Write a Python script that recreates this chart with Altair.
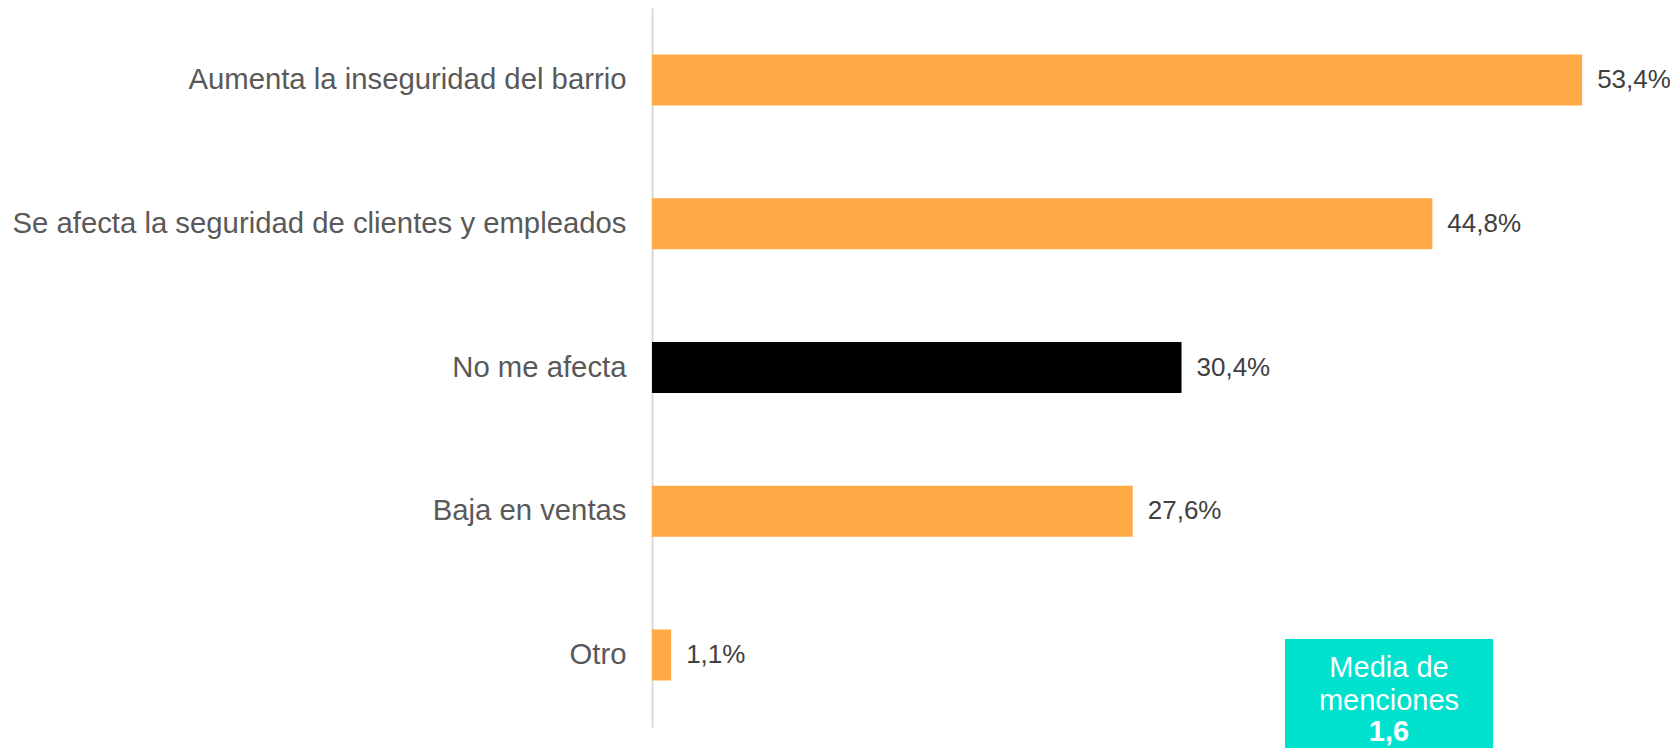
import altair as alt
import pandas as pd

categories = [
    "Aumenta la inseguridad del barrio",
    "Se afecta la seguridad de clientes y empleados",
    "No me afecta",
    "Baja en ventas",
    "Otro",
]
values = [53.4, 44.8, 30.4, 27.6, 1.1]
groups = ["afecta", "afecta", "no", "afecta", "afecta"]
box_lines = ["Media de", "menciones", "1,6"]

FONT = "Liberation Sans"
ORANGE = "#FFAA45"
TEAL = "#00E1CE"

df = pd.DataFrame({"categoria": categories, "valor": values, "grupo": groups})

W, H = 958, 719
xscale = alt.Scale(domain=[0, 55], nice=False, zero=True)
yscale = alt.Scale(paddingInner=0.645, paddingOuter=0.3225)

base = alt.Chart(df).encode(
    y=alt.Y(
        "categoria:N",
        sort=categories,
        scale=yscale,
        axis=alt.Axis(
            title=None,
            ticks=False,
            grid=False,
            domainColor="#D9D9D9",
            domainWidth=2,
            labelFont=FONT,
            labelFontSize=29.3,
            labelColor="#595959",
            labelPadding=26,
            labelLimit=0,
        ),
    ),
    x=alt.X("valor:Q", scale=xscale, axis=None),
)

bars = base.mark_bar().encode(
    color=alt.Color(
        "grupo:N",
        scale=alt.Scale(domain=["afecta", "no"], range=[ORANGE, "#000000"]),
        legend=None,
    )
)

labels = base.transform_calculate(
    etiqueta="replace(format(datum.valor, '.1f'), '.', ',') + '%'"
).mark_text(
    align="left", baseline="middle", dx=15, font=FONT, fontSize=26, color="#404040"
).encode(text="etiqueta:N")

box_df = pd.DataFrame({"linea": box_lines})
box = alt.Chart(box_df.head(1)).mark_rect(color=TEAL).encode(
    x=alt.value(633), x2=alt.value(841), y=alt.value(631), y2=alt.value(740)
)

CX = 737
t1 = alt.Chart(pd.DataFrame({"linea": [box_lines[0]]})).mark_text(
    font=FONT, fontSize=29, color="white", align="center", baseline="alphabetic"
).encode(x=alt.value(CX), y=alt.value(669), text="linea:N")
t2 = alt.Chart(pd.DataFrame({"linea": [box_lines[1]]})).mark_text(
    font=FONT, fontSize=29, color="white", align="center", baseline="alphabetic"
).encode(x=alt.value(CX), y=alt.value(702), text="linea:N")
t3 = alt.Chart(pd.DataFrame({"linea": [box_lines[2]]})).mark_text(
    font=FONT, fontSize=29, fontWeight="bold", color="white", align="center", baseline="alphabetic"
).encode(x=alt.value(CX), y=alt.value(733), text="linea:N")

chart = alt.layer(bars, labels, box, t1, t2, t3).properties(
    width=W,
    height=H,
    autosize=alt.AutoSizeParams(type="none"),
    padding={"left": 644, "top": 0, "right": 60, "bottom": 21},
).configure_view(stroke=None)

chart.save("out.html", embed_options={"renderer": "svg", "actions": False})
